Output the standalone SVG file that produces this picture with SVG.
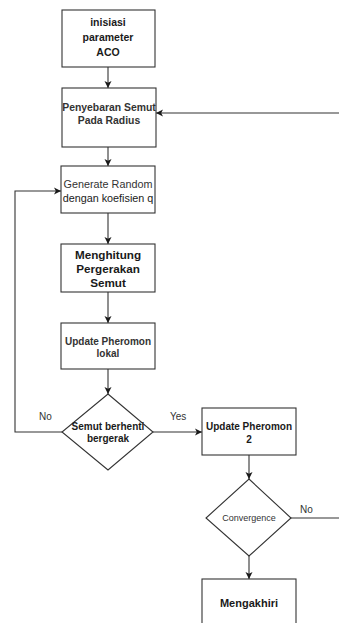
<svg xmlns="http://www.w3.org/2000/svg" width="339" height="623" viewBox="0 0 339 623">
<defs>
<marker id="ah" markerWidth="8" markerHeight="8" refX="7" refY="4" orient="auto" markerUnits="userSpaceOnUse">
<path d="M0,0.5 L7,4 L0,7.5 L1.8,4 Z" fill="#1a1a1a"/>
</marker>
<style>
.box{fill:#fff;stroke:#333;stroke-width:1.1}
.ln{fill:none;stroke:#333;stroke-width:1.1}
.t{font-family:"Liberation Sans",Arial,sans-serif;font-size:11px;fill:#1a1a1a;text-anchor:middle}
.b{font-weight:bold}
.lbl{font-family:"Liberation Sans",Arial,sans-serif;font-size:10px;fill:#333}
</style>
</defs>
<rect width="339" height="623" fill="#fff"/>
<g id="connectors">
<line class="ln" x1="108" y1="67" x2="108" y2="88" marker-end="url(#ah)"/>
<line class="ln" x1="339" y1="113" x2="156" y2="113" marker-end="url(#ah)"/>
<line class="ln" x1="108" y1="147" x2="108" y2="166" marker-end="url(#ah)"/>
<line class="ln" x1="108" y1="213" x2="108" y2="244" marker-end="url(#ah)"/>
<line class="ln" x1="108" y1="292" x2="108" y2="323" marker-end="url(#ah)"/>
<line class="ln" x1="108" y1="369" x2="108" y2="394" marker-end="url(#ah)"/>
<polyline class="ln" points="62,432 15,432 15,191 61,191" marker-end="url(#ah)"/>
<line class="ln" x1="153" y1="432" x2="202" y2="432" marker-end="url(#ah)"/>
<line class="ln" x1="249" y1="455" x2="249" y2="479" marker-end="url(#ah)"/>
<line class="ln" x1="291" y1="518" x2="339" y2="518"/>
<line class="ln" x1="249" y1="556" x2="249" y2="579" marker-end="url(#ah)"/>
<text class="lbl" x="39" y="420">No</text>
<text class="lbl" x="170" y="420">Yes</text>
<text class="lbl" x="300" y="513">No</text>
</g>
<g id="n1"><rect class="box" x="62" y="10" width="93" height="57"/>
<text class="t b" x="108" y="26" style="font-size:10.5px">inisiasi</text><text class="t b" x="108" y="41" style="font-size:10.5px">parameter</text><text class="t b" x="108" y="56" style="font-size:10.5px">ACO</text></g>
<g id="n2"><rect class="box" x="62" y="88" width="94" height="59"/>
<text class="t" x="109" y="111" style="font-size:10.4px;font-weight:bold;fill:#333">Penyebaran Semut</text><text class="t" x="109" y="124" style="font-size:10.4px;font-weight:bold;fill:#333">Pada Radius</text></g>
<g id="n3"><rect class="box" x="61" y="166" width="94" height="47"/>
<text class="t" x="108" y="188" style="font-size:10.8px;fill:#333">Generate Random</text><text class="t" x="108" y="202" style="font-size:10.8px">dengan koefisien q</text></g>
<g id="n4"><rect class="box" x="61" y="244" width="94" height="48"/>
<text class="t b" x="108" y="259" style="font-size:11.7px">Menghitung</text><text class="t b" x="108" y="273" style="font-size:11.7px">Pergerakan</text><text class="t b" x="108" y="287" style="font-size:11.7px">Semut</text></g>
<g id="n5"><rect class="box" x="61" y="323" width="94" height="46"/>
<text class="t b" x="108" y="345" style="font-size:10px;fill:#333">Update Pheromon</text><text class="t b" x="108" y="357" style="font-size:10px;fill:#333">lokal</text></g>
<g id="n6"><polygon class="box" points="108,394 153,432 108,470 62,432"/>
<text class="t b" x="108" y="430" style="font-size:10px">Semut berhenti</text><text class="t b" x="108" y="442" style="font-size:10px">bergerak</text></g>
<g id="n7"><rect class="box" x="202" y="408" width="94" height="47"/>
<text class="t b" x="249" y="430" style="font-size:10px">Update Pheromon</text><text class="t b" x="249" y="443" style="font-size:10px">2</text></g>
<g id="n8"><polygon class="box" points="249,479 291,518 249,556 206,518"/>
<text class="t" x="249" y="521" style="font-size:9px;fill:#333">Convergence</text></g>
<g id="n9"><rect class="box" x="202" y="579" width="94" height="60"/>
<text class="t b" x="249" y="607">Mengakhiri</text></g>
</svg>
